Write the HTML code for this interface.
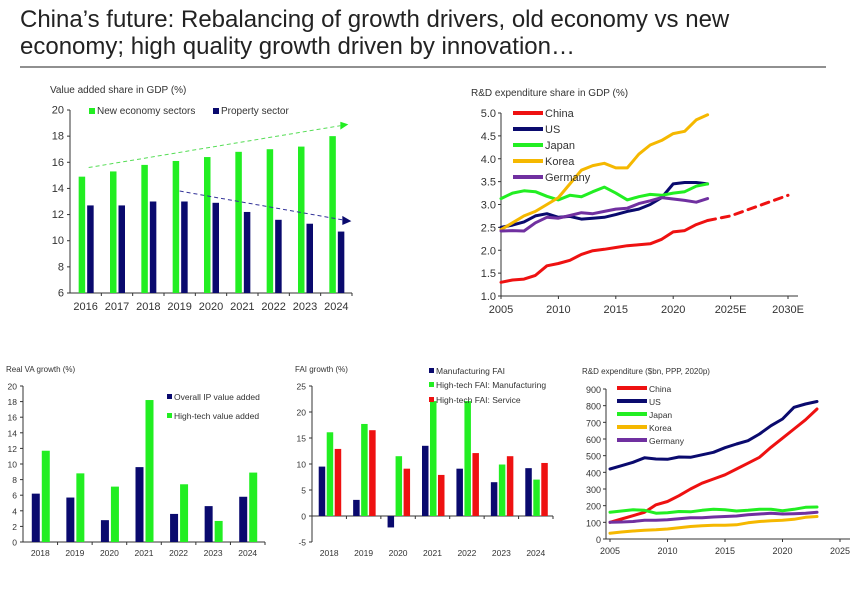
<!DOCTYPE html>
<html><head><meta charset="utf-8"><style>
body{margin:0;background:#fff;width:860px;height:586px;overflow:hidden;font-family:"Liberation Sans",sans-serif}
svg text{font-family:"Liberation Sans",sans-serif;fill:#333}
</style></head><body>
<svg id="s" width="860" height="586">
<text x="20" y="27" style="font-size:24px;fill:#222">China’s future: Rebalancing of growth drivers, old economy vs new</text>
<text x="20" y="54" style="font-size:24px;fill:#222">economy; high quality growth driven by innovation…</text>
<line x1="20" y1="67" x2="826" y2="67" stroke="#222" stroke-width="1"/>
</svg>
<script>
// Chart 1
const c1Cats=["2016","2017","2018","2019","2020","2021","2022","2023","2024"];
const c1New=[14.9,15.3,15.8,16.1,16.4,16.8,17.0,17.2,18.0];
const c1Prop=[12.7,12.7,13.0,13.0,12.9,12.2,11.6,11.3,10.7];
const c1Ticks=[6,8,10,12,14,16,18,20];
// Chart 2
const c2Years=[2005,2006,2007,2008,2009,2010,2011,2012,2013,2014,2015,2016,2017,2018,2019,2020,2021,2022,2023];
const c2China=[1.3,1.35,1.37,1.45,1.66,1.71,1.78,1.91,1.99,2.02,2.06,2.1,2.12,2.14,2.24,2.4,2.43,2.56,2.65];
const c2US=[2.5,2.55,2.62,2.75,2.8,2.72,2.74,2.68,2.7,2.72,2.78,2.85,2.9,3.0,3.15,3.45,3.48,3.48,3.45];
const c2Japan=[3.13,3.25,3.3,3.28,3.18,3.1,3.2,3.17,3.28,3.38,3.25,3.1,3.17,3.22,3.2,3.25,3.28,3.4,3.45];
const c2Korea=[2.45,2.6,2.75,2.85,3.0,3.15,3.45,3.75,3.85,3.9,3.8,3.8,4.1,4.3,4.4,4.55,4.6,4.85,4.96];
const c2Germany=[2.42,2.43,2.42,2.6,2.72,2.7,2.76,2.82,2.8,2.85,2.9,2.92,3.02,3.08,3.15,3.12,3.09,3.05,3.13];
const c2ChinaProjYears=[2023,2025,2030];
const c2ChinaProj=[2.65,2.75,3.2];
const c2Ticks=[1.0,1.5,2.0,2.5,3.0,3.5,4.0,4.5,5.0];
const c2XLabels=["2005","2010","2015","2020","2025E","2030E"];
// Chart 3
const c3Cats=["2018","2019","2020","2021","2022","2023","2024"];
const c3IP=[6.2,5.7,2.8,9.6,3.6,4.6,5.8];
const c3HT=[11.7,8.8,7.1,18.2,7.4,2.7,8.9];
const c3Ticks=[0,2,4,6,8,10,12,14,16,18,20];
// Chart 4
const c4Cats=["2018","2019","2020","2021","2022","2023","2024"];
const c4Mfg=[9.5,3.1,-2.2,13.5,9.1,6.5,9.2];
const c4HTM=[16.1,17.7,11.5,22.1,22.1,9.9,7.0];
const c4HTS=[12.9,16.5,9.1,7.9,12.1,11.5,10.2];
const c4Ticks=[-5,0,5,10,15,20,25];
// Chart 5
const c5Years=[2005,2006,2007,2008,2009,2010,2011,2012,2013,2014,2015,2016,2017,2018,2019,2020,2021,2022,2023];
const c5China=[100,120,140,160,205,225,260,300,335,360,385,420,455,490,550,605,660,715,780];
const c5US=[420,440,460,487,480,478,492,490,505,520,548,570,590,630,680,720,790,810,825];
const c5Japan=[160,168,175,172,155,158,165,163,172,178,175,168,172,178,178,170,178,190,192];
const c5Korea=[35,42,48,52,55,60,68,75,80,83,83,85,97,105,110,112,118,130,135];
const c5Germany=[100,102,105,112,112,115,122,128,127,132,135,138,145,150,155,150,152,155,160];
const c5Ticks=[0,100,200,300,400,500,600,700,800,900];
const c5XLabels=[2005,2010,2015,2020,2025];

const NS="http://www.w3.org/2000/svg", S=document.getElementById('s');
const GREEN="#22ee22",NAVY="#0a0a6e",RED="#ee1111",GOLD="#f5b800",PURPLE="#7030a0";
function mk(tag,attrs,parent){const e=document.createElementNS(NS,tag);for(const k in attrs)e.setAttribute(k,attrs[k]);(parent||S).appendChild(e);return e;}
function txt(x,y,s,size,anchor,parent){const t=mk('text',{x:x,y:y,'font-size':size,'text-anchor':anchor||'start'},parent);t.textContent=s;return t;}
function lin(a,b,c,d,col,w,parent){return mk('line',{x1:a,y1:b,x2:c,y2:d,stroke:col||'#333','stroke-width':w||1},parent);}
function grp(name){const g=mk('g',{});return g;}

function barChart(o){
  const g=grp(o.name);
  const ys=v=>o.y0+(o.vmax-v)/(o.vmax-o.vmin)*(o.y1-o.y0);
  const cw=(o.x1-o.x0)/o.cats.length;
  const t=txt(o.titleX,o.titleY,o.title,o.titleSize||10,'start',g);
  
  
  lin(o.x0,o.y0,o.x0,o.y1,'#333',1,g);
  o.ticks.forEach(v=>{const y=ys(v);lin(o.x0-3,y,o.x0,y,'#333',1,g);const l=txt(o.x0-6,y+3.5,String(v),o.fs,'end',g);});
  const zy=ys(o.base);
  lin(o.x0,zy,o.x1,zy,'#333',1,g);
  o.cats.forEach((c,i)=>{
    lin(o.x0+cw*(i+1),zy,o.x0+cw*(i+1),zy+3,'#333',1,g);
    const l=txt(o.x0+cw*(i+0.5),o.labY,c,o.fs,'middle',g);
    
    
    o.series.forEach((s,j)=>{
      const x=o.x0+cw*(i+0.5)+o.offs[j];
      const v=s.data[i],y=ys(v);
      const r=mk('rect',{x:x,y:Math.min(y,zy),width:o.bw,height:Math.abs(zy-y),fill:s.color},g);
      
      
    });
  });
  return {g,ys,cw};
}

const r1=barChart({name:'value-added-share-chart',title:'Value added share in GDP (%)',titleX:50,titleY:93,titleSize:10,
  cats:c1Cats,x0:70,x1:352,y0:110,y1:293,vmin:6,vmax:20,base:6,ticks:c1Ticks,fs:11,labY:310,bw:6.5,offs:[-7,1.5],
  series:[{key:'new-economy',data:c1New,color:GREEN},{key:'property',data:c1Prop,color:NAVY}]});
(function(){const g=r1.g,ys=r1.ys,cx=i=>70+r1.cw*(i+0.5);
  mk('rect',{x:89,y:108,width:6,height:6,fill:GREEN},g);txt(97,114,'New economy sectors',10,'start',g);
  mk('rect',{x:213,y:108,width:6,height:6,fill:NAVY},g);txt(221,114,'Property sector',10,'start',g);
  const a1=lin(cx(0)+3,ys(15.6),cx(8)+4,ys(18.8),'#55dd55',1,g);a1.setAttribute('stroke-dasharray','4,3');
  
  
  mk('polygon',{points:`${cx(8)+4},${ys(19.1)} ${cx(8)+12},${ys(18.9)} ${cx(8)+4},${ys(18.5)}`,fill:GREEN},g);
  const a2=lin(cx(3),ys(13.8),cx(8)+6,ys(11.6),'#333399',1,g);a2.setAttribute('stroke-dasharray','4,3');
  
  
  mk('polygon',{points:`${cx(8)+6},${ys(11.9)} ${cx(8)+15},${ys(11.5)} ${cx(8)+6},${ys(11.2)}`,fill:NAVY},g);
})();

const r3=barChart({name:'real-va-growth-chart',title:'Real VA growth (%)',titleX:6,titleY:372,titleSize:8,
  cats:c3Cats,x0:23,x1:265,y0:386,y1:542,vmin:0,vmax:20,base:0,ticks:c3Ticks,fs:8.5,labY:556,bw:8,offs:[-8.5,1.5],
  series:[{key:'overall-ip',data:c3IP,color:NAVY},{key:'high-tech',data:c3HT,color:GREEN}]});
mk('rect',{x:167,y:394,width:5,height:5,fill:NAVY},r3.g);txt(174,400,'Overall IP value added',8.5,'start',r3.g);
mk('rect',{x:167,y:413,width:5,height:5,fill:GREEN},r3.g);txt(174,419,'High-tech value added',8.5,'start',r3.g);

const r4=barChart({name:'fai-growth-chart',title:'FAI growth (%)',titleX:295,titleY:372,titleSize:8,
  cats:c4Cats,x0:312,x1:553,y0:386,y1:542,vmin:-5,vmax:25,base:0,ticks:c4Ticks,fs:8.5,labY:556,bw:6.5,offs:[-10.5,-2.5,5.5],
  series:[{key:'manufacturing-fai',data:c4Mfg,color:NAVY},{key:'high-tech-mfg',data:c4HTM,color:GREEN},{key:'high-tech-service',data:c4HTS,color:RED}]});
[['Manufacturing FAI',NAVY,374],['High-tech FAI: Manufacturing',GREEN,388],['High-tech FAI: Service',RED,403]].forEach(([t,c,y])=>{
  mk('rect',{x:429,y:y-6,width:5,height:5,fill:c},r4.g);txt(436,y,t,8.5,'start',r4.g);});

function lineChart(o){
  const g=grp(o.name);
  const xs=v=>o.px0+(v-o.xmin)/(o.xmax-o.xmin)*(o.px1-o.px0);
  const ys=v=>o.y0+(o.vmax-v)/(o.vmax-o.vmin)*(o.y1-o.y0);
  const t=txt(o.titleX,o.titleY,o.title,o.titleSize,'start',g);
  
  
  lin(o.ax0,o.y0,o.ax0,o.y1,'#333',1,g);lin(o.ax0,o.y1,o.ax1,o.y1,'#333',1,g);
  o.ticks.forEach(v=>{const y=ys(v);lin(o.ax0-3,y,o.ax0,y,'#333',1,g);const l=txt(o.ax0-5,y+4,o.fmt(v),o.fs,'end',g);});
  o.xlabels.forEach((s,i)=>{const v=o.xlabVals[i],x=xs(v);lin(x,o.y1,x,o.y1+3,'#333',1,g);const l=txt(x,o.y1+o.xlabDy,String(s),o.fs,'middle',g);});
  o.series.forEach((s,k)=>{
    const p=mk('path',{d:s.data.map((v,i)=>(i?'L':'M')+xs(s.x[i]).toFixed(1)+','+ys(v).toFixed(1)).join(''),fill:'none',stroke:s.color,'stroke-width':3,'stroke-linejoin':'round','stroke-linecap':'round'},g);
    if(s.dash)p.setAttribute('stroke-dasharray',s.dash);
    
    
    if(s.label){const ly=o.legY+k*o.legDy;lin(o.legX,ly,o.legX+30,ly,s.color,4,g);txt(o.legX+32,ly+4,s.label,o.legFs,'start',g);}
  });
  return g;
}

lineChart({name:'rd-share-gdp-chart',title:'R&D expenditure share in GDP (%)',titleX:471,titleY:96,titleSize:10,
  xmin:2005,xmax:2030,px0:501,px1:788,ax0:501,ax1:798,y0:113,y1:296,vmin:1,vmax:5,ticks:c2Ticks,fmt:v=>v.toFixed(1),fs:11,xlabDy:17,
  xlabels:c2XLabels,xlabVals:[2005,2010,2015,2020,2025,2030],legX:513,legY:113,legDy:16,legFs:11,
  series:[{key:'china',label:'China',x:c2Years,data:c2China,color:RED},{key:'us',label:'US',x:c2Years,data:c2US,color:NAVY},
  {key:'japan',label:'Japan',x:c2Years,data:c2Japan,color:GREEN},{key:'korea',label:'Korea',x:c2Years,data:c2Korea,color:GOLD},
  {key:'germany',label:'Germany',x:c2Years,data:c2Germany,color:PURPLE},
  {key:'china-projection',x:c2ChinaProjYears,data:c2ChinaProj,color:RED,dash:'8,6'}]});

lineChart({name:'rd-expenditure-chart',title:'R&D expenditure ($bn, PPP, 2020p)',titleX:582,titleY:374,titleSize:8,
  xmin:2005,xmax:2025,px0:610,px1:840,ax0:606,ax1:850,y0:389,y1:539,vmin:0,vmax:900,ticks:c5Ticks,fmt:v=>String(v),fs:9,xlabDy:15,
  xlabels:c5XLabels,xlabVals:c5XLabels,legX:617,legY:388,legDy:13,legFs:8.5,
  series:[{key:'china',label:'China',x:c5Years,data:c5China,color:RED},{key:'us',label:'US',x:c5Years,data:c5US,color:NAVY},
  {key:'japan',label:'Japan',x:c5Years,data:c5Japan,color:GREEN},{key:'korea',label:'Korea',x:c5Years,data:c5Korea,color:GOLD},
  {key:'germany',label:'Germany',x:c5Years,data:c5Germany,color:PURPLE}]});
</script>
</body></html>
